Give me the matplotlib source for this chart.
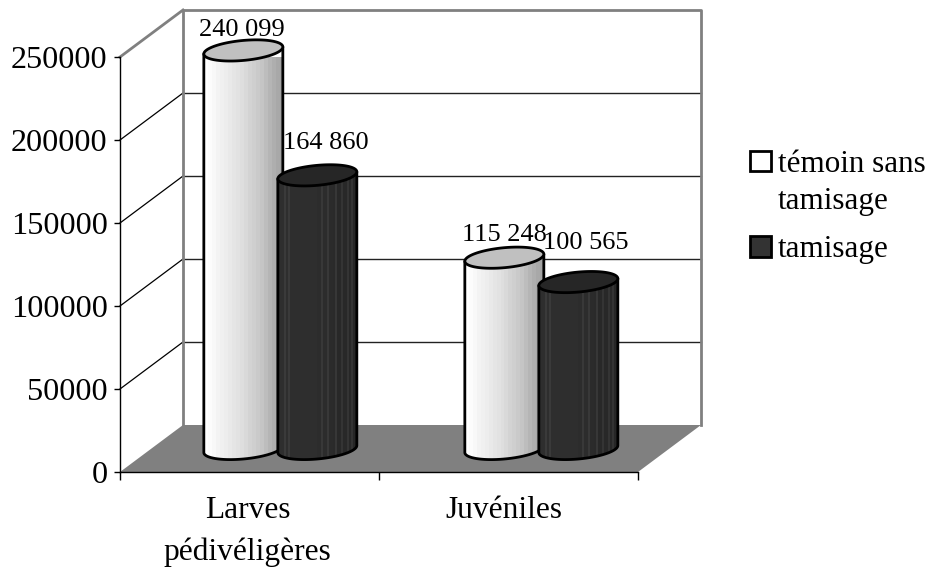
import numpy as np
import matplotlib
matplotlib.use("Agg")
import matplotlib.pyplot as plt
from matplotlib.patches import Polygon, Rectangle
from matplotlib.transforms import ScaledTranslation

plt.rcParams["font.family"] = ["Liberation Serif", "DejaVu Serif"]

categories = ["Larves\npédivéligères", "Juvéniles"]
series_names = ["témoin sans\ntamisage", "tamisage"]
temoin = [240099, 115248]
tamisage = [164860, 100565]
value_labels = [["240 099", "115 248"], ["164 860", "100 565"]]
y_ticks = [0, 50000, 100000, 150000, 200000, 250000]

W, H = 928, 567
fig = plt.figure(figsize=(W / 100, H / 100), dpi=100, facecolor="white")
ax = fig.add_axes([120 / W, (H - 472) / H, 518 / W, 415 / H])
ax.patch.set_visible(False)
ax.set_xlim(0, 2)
ax.set_ylim(0, 250000)

# data units per pixel, used for the oblique depth and the cylinder shapes
PX = 2 / 518
PY = 250000 / 415
DX, DY = 63 * PX, 47 * PY
GREY = "#808080"
N_BANDS = 40


def line(xs, ys, color="black", lw=1.0, z=1):
    ax.plot(xs, ys, color=color, lw=lw, clip_on=False, zorder=z, solid_capstyle="projecting")


# back wall, floor and the grid that wraps around the left wall
ax.add_patch(Polygon([(0, 0), (2, 0), (2 + DX, DY), (DX, DY)], closed=True,
                     fc=GREY, ec="none", clip_on=False, zorder=0.5))
for v in y_ticks[1:-1]:
    line([0, DX], [v, v + DY], lw=0.9)
    line([DX, 2 + DX], [v + DY, v + DY], color="#222222", lw=1.0)
line([DX, DX, 2 + DX, 2 + DX], [DY, 250000 + DY, 250000 + DY, DY], color=GREY, lw=2.0, z=1.1)
line([0, DX], [250000, 250000 + DY], color=GREY, lw=2.0, z=1.1)


def light_shade():
    # coarse steps give the faceted look of the pale cylinders
    t = np.floor(np.linspace(0, 1, N_BANDS) * 20) / 20
    return np.interp(t, [0, 0.2, 0.45, 0.7, 0.85, 1], [1.0, 0.94, 0.87, 0.77, 0.68, 0.62])


def dark_shade():
    # near-black body with thin lighter facets on its right half
    shade = np.interp(np.linspace(0, 1, N_BANDS), [0, 0.5, 1], [0.18, 0.18, 0.15])
    shade[[3, 5, 22, 25, 29, 32, 35, 37]] += 0.05
    return shade


def cylinder(xc, value, bands, cap, z):
    """Draw one sheared cylinder standing on the floor, centred at xc."""
    depth = 23 / 47
    cx = xc + depth * DX
    base = depth * DY
    a, b, shear = 39.5 * PX, 10.0 * PY, 3.5 * PY
    t = np.linspace(0, 2 * np.pi, 121)
    ex, ey = a * np.cos(t), b * np.sin(t) + shear * np.cos(t)
    lower = np.linspace(np.pi, 2 * np.pi, 61)
    bx = a * np.cos(lower)
    by = b * np.sin(lower) + shear * np.cos(lower)
    body = np.column_stack([
        np.r_[cx + bx, cx + a, cx - a],
        np.r_[base + by, value + base + shear, value + base - shear],
    ])
    ax.add_patch(Polygon(body, closed=True, fc="none", ec="black", lw=2.0,
                         clip_on=False, zorder=z + 0.2, joinstyle="round"))
    img = ax.imshow(bands.reshape(1, -1), extent=(cx - a, cx + a, base - 2 * b, value + base + 2 * b),
                    aspect="auto", cmap="gray", vmin=0, vmax=1,
                    interpolation="nearest", zorder=z, origin="lower")
    img.set_clip_path(Polygon(body, closed=True, transform=ax.transData))
    ax.add_patch(Polygon(np.column_stack([cx + ex, value + base + ey]), closed=True,
                         fc=cap, ec="black", lw=2.0, clip_on=False, zorder=z + 0.3))
    return cx, value + base


bar_step = 74 / 259
group_step = 261 / 259
# manual nudges (points) keep each value label next to its cylinder top
label_nudge = [[(-1, 14.5), (0, 16.5)], [(6, 23.5), (5, 28)]]
for s, (vals, bands, cap) in enumerate([(temoin, light_shade(), "#c0c0c0"),
                                        (tamisage, dark_shade(), "#262626")]):
    for c, v in enumerate(vals):
        xc = c * group_step + 0.5 + (s - 0.5) * bar_step
        cx, top = cylinder(xc, v, bands, cap, 2 + c * 2 + s)
        ax.annotate(value_labels[s][c], (cx, top), xytext=label_nudge[s][c],
                    textcoords="offset points", ha="center", va="center",
                    fontsize=19, color="black", zorder=10, annotation_clip=False)

ax.set_xlim(0, 2)
ax.set_ylim(0, 250000)

# axes, ticks and labels
for name in ("top", "right"):
    ax.spines[name].set_visible(False)
for name in ("left", "bottom"):
    ax.spines[name].set_linewidth(1.0)
    ax.spines[name].set_zorder(1.5)
ax.set_yticks(y_ticks)
ax.set_yticklabels([str(v) for v in y_ticks], fontsize=23.2)
ax.tick_params(axis="y", length=4, width=1.0, pad=5)
ax.set_xticks([0, 1, 2], minor=True)
ax.set_xticks([0.5, 1.5])
ax.set_xticklabels(categories, fontsize=22.6, linespacing=1.52)
ax.tick_params(axis="x", which="major", length=0, pad=17.5)
ax.tick_params(axis="x", which="minor", length=6, width=1.0)
for label, shift in zip(ax.get_xticklabels(), [-2, -5]):
    label.set_transform(label.get_transform() + ScaledTranslation(shift / 100, 0, fig.dpi_scale_trans))

# hand-placed legend, in pixel positions on the figure
for (y0, y1), fc in zip([(151, 171), (236, 257)], ["white", "#333333"]):
    fig.add_artist(Rectangle((750 / W, 1 - y1 / H), 21 / W, (y1 - y0) / H, fc=fc, ec="black",
                             lw=2.0, transform=fig.transFigure))
fig.text(778 / W, 1 - 183 / H, series_names[0], fontsize=22.4, ha="left", va="center", linespacing=1.35)
fig.text(778 / W, 1 - 250 / H, series_names[1], fontsize=22.4, ha="left", va="center")

fig.savefig("out.png", dpi=100)
